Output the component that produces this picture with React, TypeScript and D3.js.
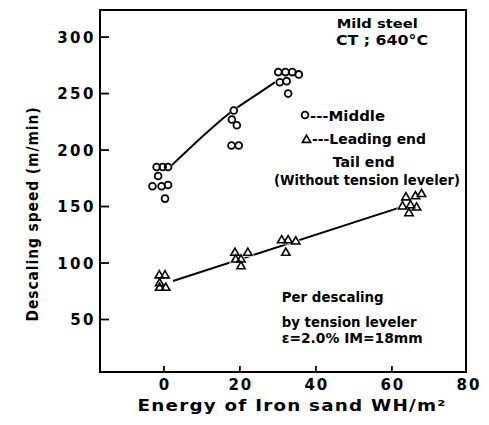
import React from 'react';
import * as d3 from 'd3';

// measured readings, energy (WH/m2) vs descaling speed (m/min)
const middleX = [-1.9, -0.3, 1.1, -1.5, -3.0, -0.6, 1.1, 0.3, 18.4, 17.9, 19.2, 17.8, 19.7, 30.1, 32.0, 33.8, 35.5, 30.5, 32.3, 32.7];
const middleY = [185, 185, 185, 177, 168, 168, 169, 157, 235, 227, 222, 204, 204, 269, 269, 269, 267, 260, 261, 250];

const edgeX = [-1.2, 0.3, -1.1, -1.1, 0.5, 18.7, 22.1, 18.9, 20.3, 20.3, 31.0, 32.7, 34.7, 32.1, 63.7, 66.2, 67.8, 62.8, 64.9, 66.5, 64.5];
const edgeY = [89, 89, 82, 78, 78, 109, 109, 103, 103, 97, 120, 120, 119, 109, 158, 159, 161, 150, 151, 149, 144];

// fitted curves
const middleFitX = [1.6, 9.5, 17, 23, 29.2];
const middleFitY = [185, 210, 232, 246, 260];
const edgeFitX = [2.4, 62];
const edgeFitY = [84, 149];

const yTicks = [50, 100, 150, 200, 250, 300];
const xTicks = [0, 20, 40, 60];
const xTickLabels = [0, 20, 40, 60, 80];

const font = "'DejaVu Sans', 'Liberation Sans', sans-serif";

export default function App() {
  const width = 489;
  const height = 425;

  const x = d3.scaleLinear().domain([-16.8, 79.5]).range([100, 466]);
  const y = d3.scaleLinear().domain([3.5, 324]).range([372, 10]);

  const middle = middleX.map((d, i) => [d, middleY[i]]);
  const edge = edgeX.map((d, i) => [d, edgeY[i]]);
  const middleFit = middleFitX.map((d, i) => [d, middleFitY[i]]);
  const edgeFit = edgeFitX.map((d, i) => [d, edgeFitY[i]]);

  const line = d3
    .line<number[]>()
    .x(d => x(d[0]))
    .y(d => y(d[1]))
    .curve(d3.curveNatural);

  const tri = d3.symbol().type(d3.symbolTriangle).size(30)();

  const [x0, x1] = x.range();
  const [y0, y1] = y.range();

  const label = (t: string, px: number, py: number, len: number, size = 14) => (
    <text x={px} y={py} fontSize={size} textLength={len} lengthAdjust="spacingAndGlyphs">
      {t}
    </text>
  );

  return (
    <svg
      width={width}
      height={height}
      style={{ position: 'absolute', left: 0, top: 0, background: '#fff' }}
      fontFamily={font}
      fontWeight="bold"
    >
      <rect x={x0} y={y1} width={x1 - x0} height={y0 - y1} fill="none" stroke="#000" strokeWidth={2} />

      {yTicks.map(t => (
        <g key={'y' + t}>
          <line x1={x0} x2={x0 + 9} y1={y(t)} y2={y(t)} stroke="#000" strokeWidth={1.8} />
          <text x={96} y={y(t) + 5.5} fontSize={15} textAnchor="end" letterSpacing={2.5}>
            {t}
          </text>
        </g>
      ))}

      {xTicks.map(t => (
        <line key={'x' + t} x1={x(t)} x2={x(t)} y1={y0} y2={y0 - 6} stroke="#000" strokeWidth={1.8} />
      ))}
      {xTickLabels.map(t => (
        <text key={'xl' + t} x={x(t) + 1} y={390} fontSize={15} textAnchor="middle" letterSpacing={2}>
          {t}
        </text>
      ))}

      <text x={292} y={411} fontSize={15} textAnchor="middle" textLength={309} lengthAdjust="spacingAndGlyphs" letterSpacing={1}>
        Energy of Iron sand  WH/m²
      </text>
      <text
        transform="translate(38,214) rotate(-90)"
        fontSize={15}
        textAnchor="middle"
        textLength={215}
        lengthAdjust="spacingAndGlyphs"
        letterSpacing={1}
      >
        Descaling speed (m/min)
      </text>

      <path d={line(middleFit) ?? ''} fill="none" stroke="#000" strokeWidth={2} />
      <path d={line(edgeFit) ?? ''} fill="none" stroke="#000" strokeWidth={2} />

      {middle.map((d, i) => (
        <circle key={'mw' + i} cx={x(d[0])} cy={y(d[1])} r={4.5} fill="#fff" />
      ))}
      {edge.map((d, i) => (
        <path key={'ew' + i} d={tri ?? ''} transform={`translate(${x(d[0])},${y(d[1])})`} fill="#fff" stroke="#fff" strokeWidth={3} />
      ))}
      {middle.map((d, i) => (
        <circle key={'m' + i} cx={x(d[0])} cy={y(d[1])} r={3.4} fill="none" stroke="#000" strokeWidth={1.8} />
      ))}
      {edge.map((d, i) => (
        <path key={'e' + i} d={tri ?? ''} transform={`translate(${x(d[0])},${y(d[1])})`} fill="none" stroke="#000" strokeWidth={1.6} />
      ))}

      {label('Mild steel', 336.7, 28, 81, 13)}
      {label('CT ; 640°C', 336, 45, 92)}

      <circle cx={305} cy={115} r={3.4} fill="none" stroke="#000" strokeWidth={1.8} />
      {label('---Middle', 310, 121, 75)}
      <path d={tri ?? ''} transform="translate(306.5,140)" fill="none" stroke="#000" strokeWidth={1.6} />
      {label('---Leading end', 312, 144, 114)}
      {label('Tail end', 332.7, 167, 62)}
      {label('(Without tension leveler)', 274, 185, 186)}

      {label('Per descaling', 281.7, 302, 102)}
      {label('by tension leveler', 281.7, 327, 135)}
      {label('ε=2.0% IM=18mm', 281.7, 343, 141)}
    </svg>
  );
}
